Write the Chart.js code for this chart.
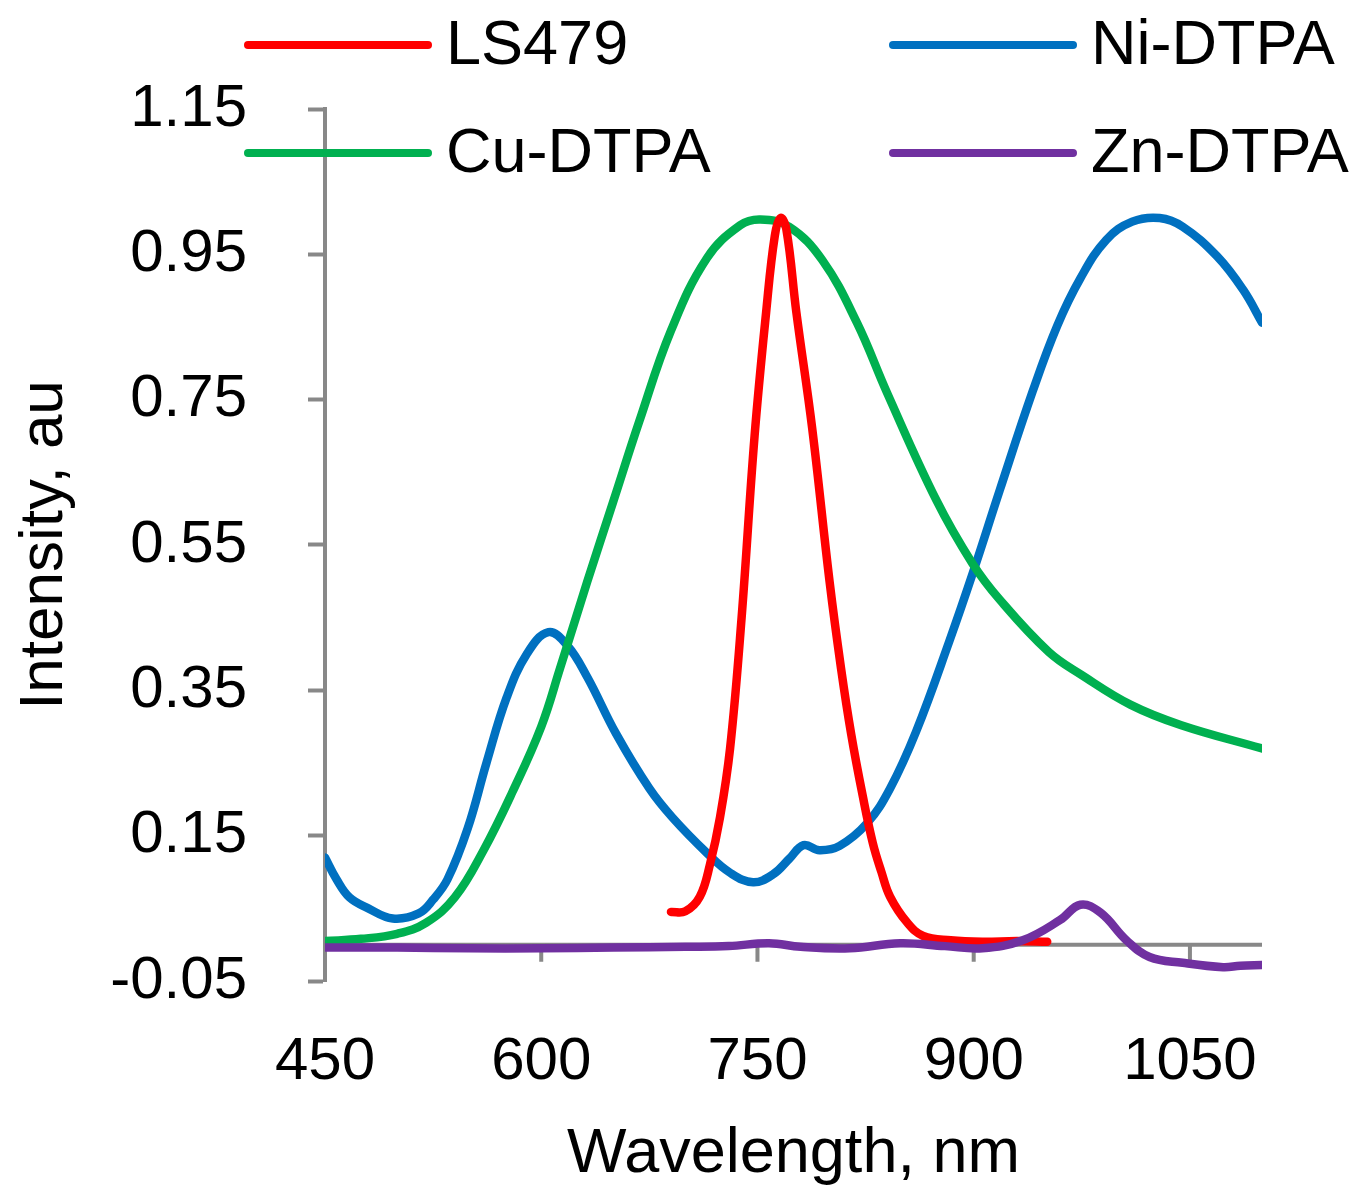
<!DOCTYPE html>
<html>
<head>
<meta charset="utf-8">
<script src="https://cdn.jsdelivr.net/npm/chart.js@4.4.1/dist/chart.umd.min.js"></script>
<style>
  html, body { margin: 0; padding: 0; background: #fff; }
  #wrap { width: 1363px; height: 1186px; }
</style>
</head>
<body>
<div id="wrap"><canvas id="spectra" width="1363" height="1186"></canvas></div>
<script>
// emission spectra
const lsWave = [690, 700, 710, 717, 724, 731, 739, 748, 756, 762, 766, 770, 777, 788, 800, 808, 815, 823, 830, 836, 842, 854, 865, 884, 906, 930, 951];
const lsInt  = [0.045, 0.046, 0.066, 0.11, 0.175, 0.27, 0.45, 0.70, 0.87, 0.975, 1.0, 0.985, 0.87, 0.71, 0.50, 0.38, 0.29, 0.205, 0.14, 0.10, 0.066, 0.03, 0.012, 0.006, 0.004, 0.005, 0.004];

const niWave = [450, 458, 467, 480, 497, 515, 525, 535, 549, 562, 576, 590, 605, 618, 632, 652, 675, 691, 715, 731, 747, 761, 772, 782, 793, 807, 826, 842, 860, 883, 900, 918, 941, 958, 974, 992, 1010, 1029, 1045, 1069, 1087, 1100];
const niInt  = [0.12, 0.09, 0.065, 0.05, 0.036, 0.043, 0.062, 0.09, 0.16, 0.25, 0.34, 0.40, 0.43, 0.412, 0.368, 0.29, 0.215, 0.175, 0.126, 0.099, 0.086, 0.097, 0.118, 0.137, 0.130, 0.136, 0.167, 0.215, 0.293, 0.417, 0.515, 0.625, 0.762, 0.852, 0.917, 0.97, 0.995, 1.0, 0.988, 0.947, 0.901, 0.856];

const cuWave = [450, 475, 500, 520, 540, 560, 580, 600, 613, 632, 650, 668, 690, 715, 738, 752, 772, 795, 819, 840, 874, 899, 918, 952, 975, 1009, 1044, 1100];
const cuInt  = [0.005, 0.008, 0.015, 0.03, 0.065, 0.13, 0.21, 0.30, 0.38, 0.50, 0.61, 0.72, 0.845, 0.945, 0.99, 0.998, 0.988, 0.942, 0.856, 0.759, 0.612, 0.525, 0.475, 0.403, 0.371, 0.33, 0.302, 0.27];

const znWave = [450, 500, 550, 600, 650, 700, 730, 758, 780, 814, 849, 880, 906, 934, 960, 974, 988, 1006, 1022, 1045, 1073, 1085, 1100];
const znInt  = [-0.004, -0.004, -0.005, -0.005, -0.004, -0.003, -0.002, 0.002, -0.003, -0.005, 0.002, -0.002, -0.005, 0.006, 0.034, 0.055, 0.044, 0.006, -0.017, -0.025, -0.031, -0.029, -0.028];

const seriesNames  = ['LS479', 'Ni-DTPA', 'Cu-DTPA', 'Zn-DTPA'];
const seriesColors = ['#ff0000', '#0070c0', '#00b050', '#7030a0'];
const drawOrder    = [2, 4, 3, 1]; // purple on top, blue at the bottom

const xTicks = [450, 600, 750, 900, 1050];
const yTicks = [-0.05, 0.15, 0.35, 0.55, 0.75, 0.95, 1.15];

const axisGray = '#888888';
const fontFamily = "'Liberation Sans', Arial, sans-serif";

function toPoints(xs, ys) {
  return xs.map((x, i) => ({ x: x, y: ys[i] }));
}

// x axis line sits at y = 0, with its tick marks pointing down
const zeroAxis = {
  id: 'zeroAxis',
  beforeDatasetsDraw(chart) {
    const ctx = chart.ctx;
    const { left, right } = chart.chartArea;
    const y0 = chart.scales.y.getPixelForValue(0);
    ctx.save();
    ctx.strokeStyle = axisGray;
    ctx.lineWidth = 4;
    ctx.beginPath();
    ctx.moveTo(left, y0);
    ctx.lineTo(right, y0);
    xTicks.forEach(v => {
      const px = chart.scales.x.getPixelForValue(v);
      ctx.moveTo(px, y0);
      ctx.lineTo(px, y0 + 17);
    });
    ctx.stroke();
    ctx.restore();
  }
};

// two-column legend, laid over the top of the plot
const gridLegend = {
  id: 'gridLegend',
  afterDraw(chart) {
    const ctx = chart.ctx;
    ctx.save();
    ctx.font = '63px ' + fontFamily;
    ctx.textBaseline = 'middle';
    ctx.textAlign = 'left';
    chart.data.datasets.forEach((ds, i) => {
      const col = i % 2, row = Math.floor(i / 2);
      const x = col === 0 ? 248 : 893;
      const y = row === 0 ? 45 : 153;
      ctx.strokeStyle = ds.borderColor;
      ctx.lineWidth = 8;
      ctx.lineCap = 'round';
      ctx.beginPath();
      ctx.moveTo(x, y);
      ctx.lineTo(x + 180, y);
      ctx.stroke();
      ctx.fillStyle = '#000';
      ctx.fillText(ds.label, x + 198, y + 2);
    });
    ctx.restore();
  }
};

const seriesData = [
  toPoints(lsWave, lsInt),
  toPoints(niWave, niInt),
  toPoints(cuWave, cuInt),
  toPoints(znWave, znInt)
];

new Chart(document.getElementById('spectra'), {
  type: 'line',
  data: {
    datasets: seriesNames.map((name, i) => ({
      label: name,
      data: seriesData[i],
      borderColor: seriesColors[i],
      borderWidth: 8.5,
      borderCapStyle: 'round',
      borderJoinStyle: 'round',
      pointRadius: 0,
      tension: 0.4,
      fill: false,
      order: drawOrder[i]
    }))
  },
  options: {
    responsive: false,
    animation: false,
    layout: { padding: { top: 109, right: 101, left: 0, bottom: 0 } },
    plugins: {
      legend: { display: false },
      tooltip: { enabled: false }
    },
    scales: {
      x: {
        type: 'linear',
        min: 450,
        max: 1100,
        afterBuildTicks: s => { s.ticks = xTicks.map(v => ({ value: v })); },
        afterFit: s => { s.height = 205; },
        border: { display: false },
        grid: { display: false },
        ticks: {
          color: '#000',
          padding: 37,
          maxRotation: 0,
          font: { family: fontFamily, size: 60 },
          callback: v => String(v)
        },
        title: {
          display: true,
          text: 'Wavelength, nm',
          color: '#000',
          padding: { top: 0, bottom: 0 },
          font: { family: fontFamily, size: 63, lineHeight: 1.0 }
        }
      },
      y: {
        type: 'linear',
        min: -0.05,
        max: 1.15,
        afterBuildTicks: s => { s.ticks = yTicks.map(v => ({ value: v })); },
        afterFit: s => { s.width = 325; },
        border: { display: true, color: axisGray, width: 4 },
        grid: {
          display: true,
          drawOnChartArea: false,
          drawTicks: true,
          tickLength: 17,
          tickColor: axisGray,
          tickWidth: 4
        },
        ticks: {
          color: '#000',
          padding: 61,
          font: { family: fontFamily, size: 60 },
          callback: v => v.toFixed(2)
        },
        title: {
          display: true,
          text: 'Intensity, au',
          color: '#000',
          padding: { top: 8, bottom: 0 },
          font: { family: fontFamily, size: 62 }
        }
      }
    }
  },
  plugins: [zeroAxis, gridLegend]
});
</script>
</body>
</html>
